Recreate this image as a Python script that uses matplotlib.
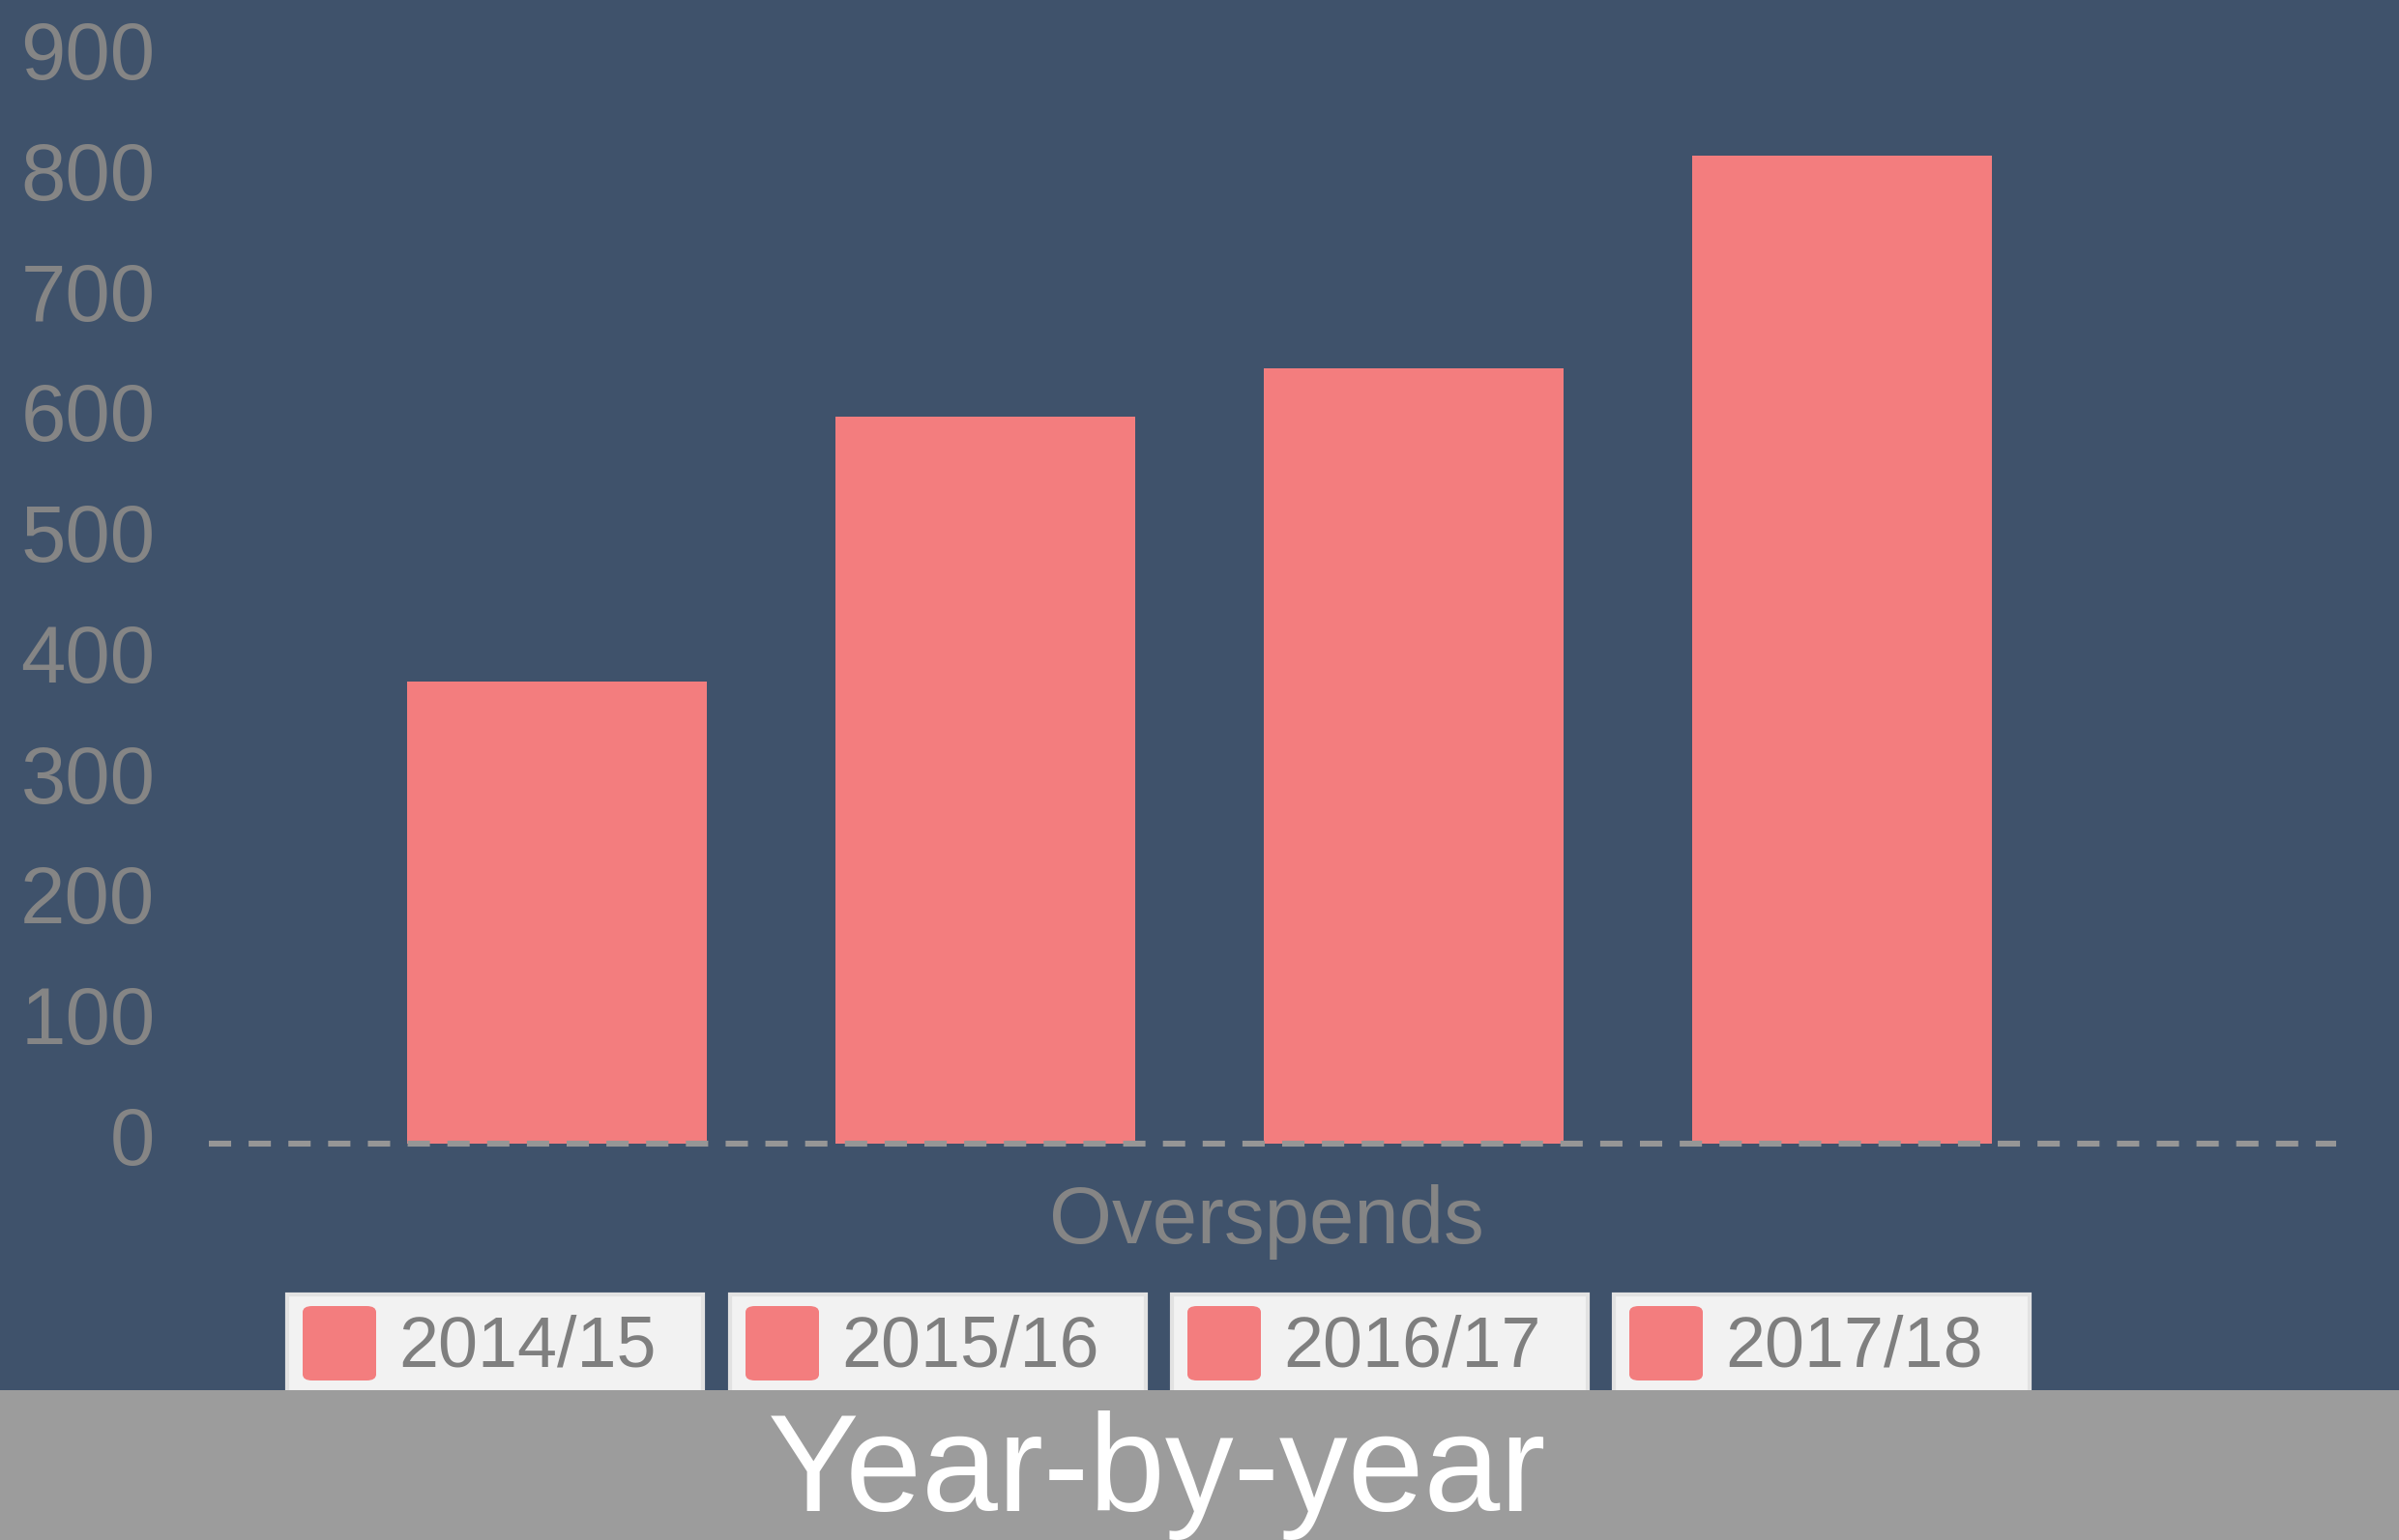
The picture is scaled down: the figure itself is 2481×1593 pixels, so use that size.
import matplotlib
matplotlib.use("Agg")
import matplotlib.pyplot as plt
from matplotlib.patches import Rectangle, FancyBboxPatch

# data
years = ["2014/15", "2015/16", "2016/17", "2017/18"]
overspends = [383, 603, 643, 819]
category = "Overspends"
yticks = [0, 100, 200, 300, 400, 500, 600, 700, 800, 900]
title = "Year-by-year"

bg = "#3f526b"
bar_col = "#f37d7e"
txt_grey = "#858585"
band_col = "#9c9c9c"

W, H = 2481, 1593
plt.rcParams["font.family"] = ["Liberation Sans", "DejaVu Sans"]
plt.rcParams["lines.scale_dashes"] = False

fig = plt.figure(figsize=(W / 100, H / 100), dpi=100, facecolor=bg)

def fx(x):
    return x / W

def fy(y):
    return 1 - y / H

# plot area in pixels
left, right, top, bottom = 216, 2416, 60, 1183
ax = fig.add_axes([fx(left), fy(bottom), fx(right - left), (bottom - top) / H])
ax.set_facecolor(bg)

xpos = range(len(years))
ax.bar(xpos, overspends, width=0.7, color=bar_col, edgecolor="none", zorder=2)
ax.axhline(0, color="#969696", lw=4.4, dashes=(16.6, 13), zorder=3, clip_on=False)

ax.set_xlim(-0.8126, 4.1535)
ax.set_ylim(0, 900)
ax.set_yticks(yticks)
ax.set_yticklabels([str(t) for t in yticks])
ax.tick_params(axis="y", length=0, pad=40, labelsize=60, labelcolor=txt_grey)
ax.set_xticks([])
for s in ax.spines.values():
    s.set_visible(False)
for lbl in ax.get_yticklabels():
    lbl.set_clip_on(False)
    lbl.set_verticalalignment("center")

# category label
fig.text(fx(1310), fy(1264), category, color=txt_grey, fontsize=60,
         ha="center", va="center")

# legend boxes
box_left = [297, 755, 1212, 1669]
box_w, box_top, box_bot = 430, 1339, 1440
for bx, yr in zip(box_left, years):
    fig.patches.append(Rectangle((fx(bx), fy(box_bot)), fx(box_w), (box_bot - box_top) / H,
                                 transform=fig.transFigure, facecolor="#f2f2f2",
                                 edgecolor="#e2e2e2", lw=3, zorder=1))
    fig.patches.append(FancyBboxPatch((fx(bx + 16), fy(1428)), fx(76), 77 / H,
                                      boxstyle="round,pad=0,rounding_size=0.004",
                                      transform=fig.transFigure, facecolor=bar_col,
                                      edgecolor="none", zorder=2))
    fig.text(fx(bx + 115), fy(1394), yr, color="#7f7f7f", fontsize=53,
             ha="left", va="center", zorder=3)

# bottom band with title
fig.patches.append(Rectangle((0, 0), 1, (H - 1438) / H, transform=fig.transFigure,
                             facecolor=band_col, edgecolor="none", zorder=4))
fig.text(fx(1197), fy(1526), title, color="white", fontsize=102,
         ha="center", va="center", zorder=5)

fig.savefig("out.png", dpi=100, facecolor=bg)
